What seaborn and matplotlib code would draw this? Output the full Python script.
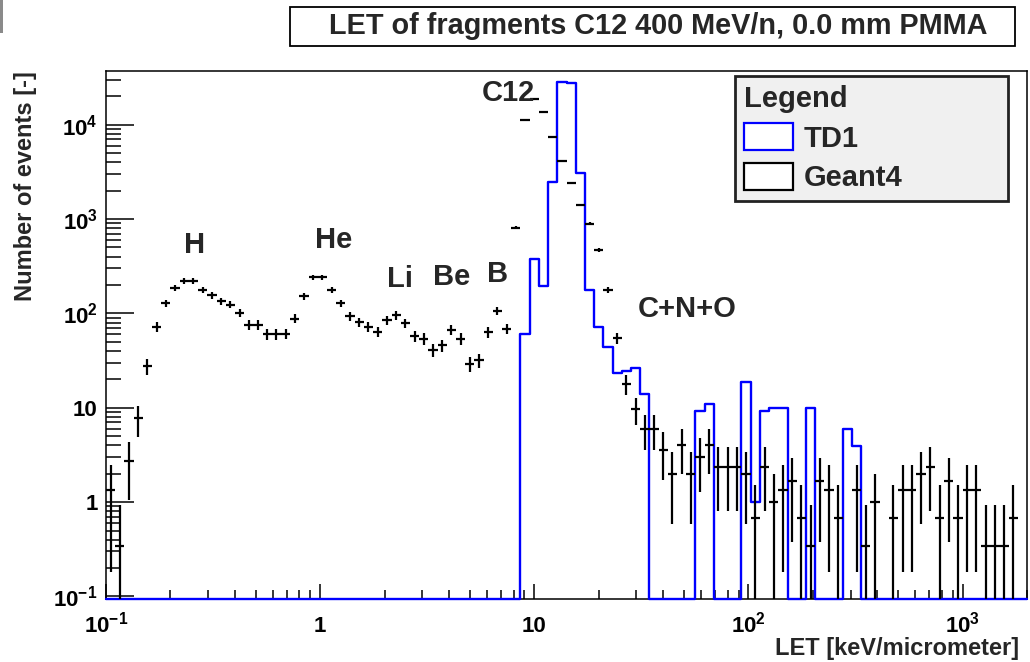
import numpy as np
import matplotlib
matplotlib.use("Agg")
import matplotlib.pyplot as plt
from matplotlib.patches import Patch, Rectangle
import seaborn as sns

# ---------------- data ----------------
let_min, let_max, n_bins = 0.1, 2000.0, 100   # 100 log-spaced LET bins

geant4_counts = [
    1.34, 0.34, 2.7, 7.7, 27.5, 72, 128, 187, 220, 220,
    178, 155, 135, 124, 102, 76, 76, 60, 60, 61,
    88, 151, 242, 242, 178, 128, 93, 81, 72, 64,
    85, 95, 79, 57, 54, 40.5, 46, 67, 54, 29.4,
    31.8, 63, 106, 69, 810, 11300, 18500, 13500, 7470, 4160,
    2390, 1413, 890, 472, 178, 55, 18, 9.6, 6.0, 6.0,
    3.6, 2.0, 4.0, 2.0, 3.0, 4.0, 2.33, 2.33, 2.33, 2.0,
    0.68, 2.33, 1.0, 1.34, 1.67, 0.68, 0.34, 1.67, 1.34, 0.68,
    0, 1.34, 0.34, 1.0, 0, 0.68, 1.34, 1.34, 2.0, 2.33,
    0.68, 1.67, 0.68, 1.34, 1.34, 0.34, 0.34, 0.34, 0.68, 0,
]

td1_counts = [
    0, 0, 0, 0, 0, 0, 0, 0, 0, 0,
    0, 0, 0, 0, 0, 0, 0, 0, 0, 0,
    0, 0, 0, 0, 0, 0, 0, 0, 0, 0,
    0, 0, 0, 0, 0, 0, 0, 0, 0, 0,
    0, 0, 0, 0, 0, 60, 379, 194, 2495, 28500,
    27400, 3083, 178, 71.6, 44, 23.3, 24.5, 26.4, 13.9, 0,
    0, 0, 0, 0, 9.3, 10.9, 0, 0, 0, 18.7,
    1.0, 9.3, 10.0, 10.0, 0, 0, 10.0, 0, 0, 0,
    6.0, 3.9, 0, 0, 0, 0, 0, 0, 0, 0,
    0, 0, 0, 0, 0, 0, 0, 0, 0, 0,
]

series_names = ["TD1", "Geant4"]
x_tick_values = [0.1, 1, 10, 100, 1000]
x_tick_labels = [r"$10^{-1}$", "1", "10", r"$10^{2}$", r"$10^{3}$"]
y_tick_values = [0.1, 1, 10, 100, 1000, 10000]
y_tick_labels = [r"$10^{-1}$", "1", "10", r"$10^{2}$", r"$10^{3}$", r"$10^{4}$"]
peak_names = ["H", "He", "Li", "Be", "B", "C12", "C+N+O"]
peak_let = [0.26, 1.15, 2.36, 4.13, 6.76, 7.6, 52]
peak_height = [431, 487, 190, 198, 214, 17950, 90.7]

title = "LET of fragments C12 400 MeV/n, 0.0 mm PMMA"
x_label = "LET [keV/micrometer]"
y_label = "Number of events [-]"
y_range = (0.094, 3.7e4)

# ---------------- style ----------------
sns.set_style("ticks")
plt.rcParams["font.family"] = ["Liberation Sans", "DejaVu Sans"]
plt.rcParams["font.weight"] = "bold"
plt.rcParams["mathtext.fontset"] = "custom"
plt.rcParams["mathtext.rm"] = "Liberation Sans:bold"
plt.rcParams["mathtext.it"] = "Liberation Sans:bold"
plt.rcParams["mathtext.bf"] = "Liberation Sans:bold"
plt.rcParams["axes.unicode_minus"] = True

W, H = 1030, 662
fig = plt.figure(figsize=(W / 100, H / 100), dpi=100)
fig.patch.set_facecolor("white")
ax = fig.add_axes([106 / W, 1 - 599 / H, (1027 - 106) / W, (599 - 71) / H])
ax.set_xscale("log")
ax.set_yscale("log")

edges = np.logspace(np.log10(let_min), np.log10(let_max), n_bins + 1)
centers = np.sqrt(edges[:-1] * edges[1:])

# TD1 histogram outline (empty bins drawn on the bottom of the frame)
td1 = np.asarray(td1_counts, float)
td1_plot = np.where(td1 > 0, td1, y_range[0])
sns.lineplot(x=edges, y=np.append(td1_plot, td1_plot[-1]), drawstyle="steps-post",
             color="#0000ff", lw=1.7, estimator=None, sort=False, ax=ax,
             clip_on=False, zorder=3)

# Geant4 points with error bars
g = np.asarray(geant4_counts, float)
m = g > 0
gc, gv = centers[m], g[m]
err = np.sqrt(gv)
low = np.maximum(gv - err, 1e-4)
ax.errorbar(gc, gv, xerr=[gc - edges[:-1][m], edges[1:][m] - gc],
            yerr=[gv - low, err], fmt="none", ecolor="black", elinewidth=1.6,
            capsize=0, zorder=4)

ax.set_xlim(let_min, let_max)
ax.set_ylim(*y_range)

ax.set_xticks(x_tick_values)
ax.set_xticklabels(x_tick_labels)
ax.set_yticks(y_tick_values)
ax.set_yticklabels(y_tick_labels)
ax.xaxis.set_minor_locator(matplotlib.ticker.LogLocator(base=10, subs=np.arange(2, 10)))
ax.yaxis.set_minor_locator(matplotlib.ticker.LogLocator(base=10, subs=np.arange(2, 10)))
ax.xaxis.set_minor_formatter(matplotlib.ticker.NullFormatter())
ax.yaxis.set_minor_formatter(matplotlib.ticker.NullFormatter())

ax.tick_params(axis="both", which="both", direction="in", colors="black",
               top=False, right=False, labelsize=16)
ax.tick_params(axis="y", which="major", length=20, width=1.1, pad=6)
ax.tick_params(axis="y", which="minor", length=10.5, width=1.1)
ax.tick_params(axis="x", which="major", length=10.5, width=1.1, pad=24)
ax.tick_params(axis="x", which="minor", length=6.3, width=1.1)
for lab in ax.get_xticklabels():
    lab.set_va("baseline")
for sp in ax.spines.values():
    sp.set_color("black")
    sp.set_linewidth(1.1)

# peak labels
for name, xv, yv in zip(peak_names, peak_let, peak_height):
    ax.text(xv, yv, name, ha="center", va="baseline", fontsize=21,
            fontweight="bold", zorder=5)

# axis titles (ROOT style: aligned to the axis ends)
fig.text(1019 / W, 1 - 655 / H, x_label, ha="right", va="baseline",
         fontsize=17, fontweight="bold")
fig.text(37 / W, 1 - 71 / H, y_label, ha="right", va="top", rotation=90,
         fontsize=17, fontweight="bold")

# title box
fig.add_artist(Rectangle((290 / W, 1 - 45.5 / H), 725 / W, 38.5 / H,
                         transform=fig.transFigure, facecolor="white",
                         edgecolor="black", lw=1.3))
fig.text(658 / W, 1 - 34 / H, title, ha="center", va="baseline",
         fontsize=20.8, fontweight="bold")

# small grey artefact in the top-left corner of the reference
fig.add_artist(Rectangle((0, 1 - 33 / H), 3 / W, 33 / H, transform=fig.transFigure,
                         facecolor="#8a8a8a", edgecolor="none"))

# legend
handles = [Patch(facecolor="white", edgecolor="#0000ff", lw=1.6, label=series_names[0]),
           Patch(facecolor="white", edgecolor="black", lw=1.6, label=series_names[1])]
leg = ax.legend(handles=handles, title="Legend", loc="upper left",
                bbox_to_anchor=(735 / W, 1 - 203 / H, 273 / W, 127 / H),
                bbox_transform=fig.transFigure, mode="expand", alignment="left",
                prop={"size": 21, "weight": "bold"},
                title_fontproperties={"size": 21, "weight": "bold"},
                frameon=True, fancybox=False, edgecolor="#222222",
                facecolor="#f0f0f0", framealpha=1, handlelength=1.7,
                handleheight=1.07, handletextpad=0.35, borderpad=0.3,
                labelspacing=0.35, borderaxespad=0)
leg.get_frame().set_linewidth(2)

fig.savefig("out.png", dpi=100)
